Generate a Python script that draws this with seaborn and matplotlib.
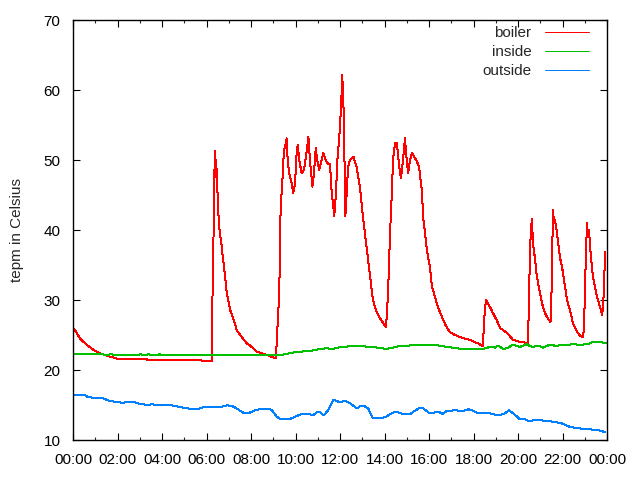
import numpy as np
import pandas as pd
import matplotlib
matplotlib.use("Agg")
import matplotlib.pyplot as plt
import seaborn as sns

# ---------------- data (hours since midnight, temperature in Celsius) ----------------
boiler_h = [0.00, 0.09, 0.31, 0.62, 0.91, 1.21, 1.51, 1.81, 2.04, 3.31, 3.34, 5.78, 5.81, 6.23,
            6.24, 6.28, 6.32, 6.35, 6.38, 6.41, 6.43, 6.47, 6.52, 6.59, 6.67, 6.73, 6.82, 6.91,
            7.06, 7.20, 7.36, 7.51, 7.81, 7.96, 8.26, 8.40, 8.63, 8.85, 9.08, 9.12, 9.16, 9.27,
            9.33, 9.42, 9.48, 9.57, 9.60, 9.65, 9.72, 9.83, 9.90, 9.98, 10.05, 10.10, 10.17,
            10.28, 10.38, 10.47, 10.58, 10.65, 10.76, 10.83, 10.91, 10.98, 11.06, 11.13, 11.25,
            11.37, 11.47, 11.55, 11.63, 11.70, 11.74, 11.82, 11.88, 11.97, 12.03, 12.08, 12.10,
            12.15, 12.19, 12.24, 12.30, 12.36, 12.45, 12.60, 12.75, 12.90, 13.03, 13.21, 13.35,
            13.48, 13.62, 13.80, 14.07, 14.16, 14.25, 14.34, 14.38, 14.47, 14.56, 14.65, 14.74,
            14.83, 14.92, 14.97, 15.06, 15.15, 15.24, 15.42, 15.55, 15.69, 15.73, 15.82, 15.91,
            16.04, 16.13, 16.27, 16.40, 16.58, 16.76, 16.94, 17.17, 17.39, 17.84, 18.20, 18.43,
            18.47, 18.56, 18.74, 18.88, 19.06, 19.19, 19.37, 19.51, 19.64, 19.78, 20.09, 20.40,
            20.45, 20.49, 20.54, 20.58, 20.63, 20.67, 20.76, 20.85, 20.99, 21.12, 21.26, 21.44,
            21.48, 21.53, 21.57, 21.62, 21.66, 21.75, 21.89, 21.98, 22.11, 22.20, 22.34, 22.47,
            22.65, 22.79, 22.92, 22.97, 23.01, 23.06, 23.10, 23.15, 23.19, 23.28, 23.37, 23.51,
            23.64, 23.78, 23.82, 23.87, 23.91]
boiler_t = [26.0, 25.7, 24.5, 23.6, 22.9, 22.4, 22.05, 21.8, 21.57, 21.57, 21.38, 21.38, 21.24, 21.24,
            25.0, 32.4, 40.0, 47.4, 51.3, 47.6, 50.0, 47.6, 42.9, 39.8, 38.1, 36.2, 33.8, 31.0,
            28.6, 27.4, 25.7, 25.0, 23.8, 23.5, 22.6, 22.5, 22.24, 22.0, 21.67, 21.7, 24.3, 31.0,
            42.9, 47.6, 51.4, 52.4, 53.1, 49.9, 48.1, 46.7, 45.3, 46.7, 51.0, 52.1, 49.9,
            48.1, 48.6, 50.5, 53.3, 49.9, 46.2, 48.1, 51.7, 49.9, 48.6, 49.5, 51.0,
            49.9, 49.4, 49.4, 45.2, 43.3, 42.0, 45.2, 50.0, 53.3, 56.7, 60.0, 62.1,
            58.6, 52.4, 42.0, 45.2, 49.0, 50.0, 50.5, 49.0, 46.0, 41.9, 37.1, 33.3,
            30.0, 28.5, 27.4, 26.1, 31.0, 39.6, 46.0, 50.0, 52.4, 52.4, 49.3, 47.4,
            50.0, 53.1, 51.0, 48.1, 50.0, 51.0, 50.0, 49.1, 45.3, 42.0, 39.6, 37.0,
            34.7, 32.0, 30.4, 29.0, 27.6, 26.3, 25.4, 25.0, 24.7, 24.3, 23.8, 23.4,
            27.0, 30.0, 29.0, 28.1, 27.0, 26.0, 25.6, 25.3, 24.8, 24.3, 24.0, 23.9,
            23.9, 30.0, 37.0, 40.0, 41.6, 38.1, 36.0, 33.3, 31.0, 29.0, 27.8, 26.9,
            27.0, 35.0, 42.9, 41.0, 41.5, 39.6, 36.0, 34.7, 32.0, 30.0, 28.5, 26.7,
            25.5, 24.9, 24.7, 26.0, 32.0, 37.0, 41.0, 39.0, 40.0, 36.0, 33.3, 31.0,
            29.5, 27.9, 29.0, 32.0, 36.9]

inside_h = [0.00, 1.36, 1.40, 1.62, 1.66, 1.75, 1.80, 2.97, 3.01, 3.08, 3.12, 3.33, 3.37, 3.42,
            3.46, 3.83, 3.87, 3.92, 3.96, 9.30, 9.60, 10.07, 10.65, 11.10, 11.40, 11.70, 12.00,
            12.58, 12.90, 13.48, 14.10, 14.65, 15.60, 16.27, 16.80, 17.50, 18.43, 18.74, 18.97,
            19.10, 19.33, 19.50, 19.78, 19.96, 20.09, 20.40, 20.54, 20.67, 20.90, 21.12, 21.35,
            21.53, 21.70, 21.98, 22.20, 22.43, 22.80, 23.15, 23.37, 23.69, 23.96]
inside_t = [22.25, 22.25, 22.10, 22.10, 22.25, 22.25, 22.10, 22.10, 22.25, 22.25, 22.10, 22.10, 22.25, 22.25,
            22.10, 22.10, 22.25, 22.25, 22.10, 22.10, 22.30, 22.60, 22.70, 23.00, 23.10, 23.00, 23.30,
            23.40, 23.40, 23.30, 23.00, 23.40, 23.60, 23.60, 23.30, 23.00, 23.00, 23.30, 23.20,
            23.50, 23.00, 23.10, 23.60, 23.40, 23.30, 23.70, 23.40, 23.30, 23.50, 23.20, 23.50,
            23.60, 23.40, 23.60, 23.50, 23.70, 23.60, 23.70, 24.00, 24.00, 23.80]

outside_h = [0.00, 0.54, 0.69, 1.36, 1.63, 2.11, 2.26, 2.34, 2.79, 3.01, 3.38, 3.54, 3.83, 4.44,
             4.81, 5.11, 5.56, 5.86, 6.31, 6.61, 6.91, 7.13, 7.36, 7.65, 7.88, 8.10, 8.40, 8.78,
             8.93, 9.16, 9.30, 9.75, 10.05, 10.35, 10.58, 10.77, 10.95, 11.10, 11.28, 11.47, 11.70,
             11.85, 11.97, 12.08, 12.22, 12.45, 12.75, 12.90, 13.12, 13.27, 13.45, 13.57, 14.02,
             14.40, 14.62, 14.84, 15.15, 15.37, 15.60, 15.74, 16.04, 16.27, 16.49, 16.60, 16.80,
             17.17, 17.54, 17.77, 17.95, 18.22, 18.74, 19.04, 19.34, 19.60, 19.87, 20.06, 20.31,
             20.46, 20.69, 21.07, 21.59, 21.96, 22.34, 22.86, 23.54, 23.76, 23.91]
outside_t = [16.38, 16.40, 16.10, 15.96, 15.57, 15.38, 15.30, 15.40, 15.40, 15.14, 15.00, 15.10, 15.00, 14.95,
             14.71, 14.52, 14.38, 14.70, 14.67, 14.70, 14.95, 14.90, 14.50, 13.90, 13.81, 14.14, 14.43, 14.50,
             14.30, 13.33, 13.00, 13.00, 13.43, 13.76, 13.76, 13.50, 13.95, 13.95, 13.52, 14.29, 15.71,
             15.60, 15.40, 15.48, 15.60, 15.24, 14.52, 14.80, 14.80, 14.50, 13.24, 13.10, 13.24,
             13.95, 13.95, 13.71, 13.71, 14.19, 14.62, 14.50, 13.81, 13.95, 13.95, 13.71, 14.14,
             14.24, 14.14, 14.38, 14.24, 13.81, 13.81, 13.57, 13.67, 14.24, 13.57, 13.05, 12.95,
             12.71, 12.80, 12.80, 12.62, 12.38, 11.86, 11.62, 11.43, 11.29, 11.10]

series_names = ["boiler", "inside", "outside"]
series_colors = ["#ff0000", "#00c000", "#0080ff"]
x_ticks = [0, 2, 4, 6, 8, 10, 12, 14, 16, 18, 20, 22, 24]
x_tick_labels = ["00:00", "02:00", "04:00", "06:00", "08:00", "10:00", "12:00",
                 "14:00", "16:00", "18:00", "20:00", "22:00", "00:00"]
y_ticks = [10, 20, 30, 40, 50, 60, 70]
y_label = "tepm in Celsius"

# ---------------- plot ----------------
sns.set_theme(style="white")
plt.rcParams["font.family"] = ["Liberation Sans", "DejaVu Sans"]

fig = plt.figure(figsize=(6.4, 4.8), dpi=100)
ax = fig.add_axes([73 / 640, 40 / 480, 534 / 640, 420 / 480])

data = [(boiler_h, boiler_t), (inside_h, inside_t), (outside_h, outside_t)]
for (hx, ty), name, col in zip(data, series_names, series_colors):
    df = pd.DataFrame({"hour": hx, "temp": ty})
    sns.lineplot(data=df, x="hour", y="temp", ax=ax, color=col, linewidth=0.72,
                 label=name, estimator=None, sort=False, antialiased=False)

ax.set_xlim(0, 24)
ax.set_ylim(10, 70)
ax.set_xticks(x_ticks)
ax.set_xticklabels(x_tick_labels)
ax.set_xticks(np.arange(0, 25, 1), minor=True)
ax.set_yticks(y_ticks)
ax.set_xlabel("")
ax.set_ylabel(y_label, fontsize=11, labelpad=14)

ax.tick_params(axis="both", which="major", direction="in", length=5, width=0.8,
               top=True, right=True, bottom=True, left=True, labelsize=11, color="black",
               labelcolor="black")
ax.tick_params(axis="x", which="major", pad=9)
ax.tick_params(axis="y", which="major", pad=9)
ax.tick_params(axis="x", which="minor", direction="in", length=2.5, width=0.8,
               top=True, bottom=True)
for s in ax.spines.values():
    s.set_color("black")
    s.set_linewidth(1.0)
ax.grid(False)

leg = ax.legend(loc="upper right", bbox_to_anchor=(1 - 12 / 534, 1.0), markerfirst=False,
                frameon=False, fontsize=11, handlelength=2.9, handletextpad=0.85,
                labelspacing=0.33, borderaxespad=0.2, borderpad=0.2)
for line in leg.get_lines():
    line.set_linewidth(0.72)

fig.savefig("out.png", dpi=100)
